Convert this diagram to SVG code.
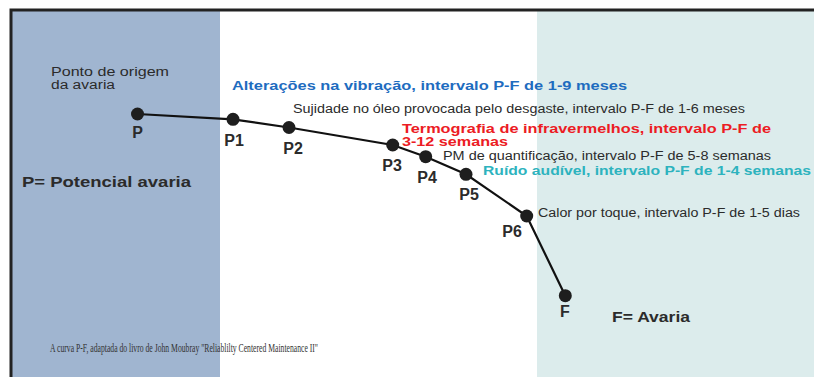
<svg xmlns="http://www.w3.org/2000/svg" width="814" height="377" viewBox="0 0 814 377">
<style>
.t{font-family:"Liberation Sans",Arial,sans-serif;fill:#2b2b2b}
.r{font-size:12px}
.b{font-weight:bold}
.lbl{font-family:"Liberation Sans",Arial,sans-serif;font-weight:bold;font-size:16px;fill:#2b2b2b}
.dot{fill:#1e1e1e}
.edge{stroke:#111;stroke-width:2.2;fill:none}
</style>
<rect x="0" y="0" width="814" height="377" fill="#ffffff"/>
<rect x="12" y="11" width="208" height="366" fill="#a0b5d0"/>
<rect x="537" y="11" width="277" height="366" fill="#dcecec"/>
<path d="M11 377 V10 H814" stroke="#222" stroke-width="3" fill="none"/>
<g id="connectors">
<polyline class="edge" points="137.5,114 233,119.3 289,127.5 392.7,145 425.7,156.7 466,174.3 526.7,216 565.3,295.7"/>
</g>
<g id="P"><circle class="dot" cx="137.5" cy="114" r="6.5"/><text class="lbl" x="137.5" y="138" text-anchor="middle">P</text></g>
<g id="P1"><circle class="dot" cx="233" cy="119.3" r="6.5"/><text class="lbl" x="234" y="146" text-anchor="middle">P1</text></g>
<g id="P2"><circle class="dot" cx="289" cy="127.5" r="6.5"/><text class="lbl" x="293" y="154" text-anchor="middle">P2</text></g>
<g id="P3"><circle class="dot" cx="392.7" cy="145" r="6.5"/><text class="lbl" x="392" y="171" text-anchor="middle">P3</text></g>
<g id="P4"><circle class="dot" cx="425.7" cy="156.7" r="6.5"/><text class="lbl" x="427" y="183" text-anchor="middle">P4</text></g>
<g id="P5"><circle class="dot" cx="466" cy="174.3" r="6.5"/><text class="lbl" x="469" y="200" text-anchor="middle">P5</text></g>
<g id="P6"><circle class="dot" cx="526.7" cy="216" r="6.5"/><text class="lbl" x="512" y="237" text-anchor="middle">P6</text></g>
<g id="F"><circle class="dot" cx="565.3" cy="295.7" r="6.5"/><text class="lbl" x="565" y="317" text-anchor="middle">F</text></g>
<g id="labels">
<text class="t" font-size="12.5" x="51" y="76" textLength="118" lengthAdjust="spacingAndGlyphs">Ponto de origem</text>
<text class="t" font-size="12.5" x="51" y="89" textLength="64" lengthAdjust="spacingAndGlyphs">da avaria</text>
<text class="t b" font-size="13" x="232" y="90" style="fill:#1e6cbf" textLength="395" lengthAdjust="spacingAndGlyphs">Alterações na vibração, intervalo P-F de 1-9 meses</text>
<text class="t r" x="293" y="113" textLength="452" lengthAdjust="spacingAndGlyphs">Sujidade no óleo provocada pelo desgaste, intervalo P-F de 1-6 meses</text>
<text class="t b" font-size="12.5" x="402" y="133" style="fill:#ec1c24" textLength="369" lengthAdjust="spacingAndGlyphs">Termografia de infravermelhos, intervalo P-F de</text>
<text class="t b" font-size="12.5" x="402" y="146" style="fill:#ec1c24" textLength="106" lengthAdjust="spacingAndGlyphs">3-12 semanas</text>
<text class="t r" x="443" y="160" textLength="328" lengthAdjust="spacingAndGlyphs">PM de quantificação, intervalo P-F de 5-8 semanas</text>
<text class="t b" font-size="13" x="483" y="175" style="fill:#2db3be" textLength="328" lengthAdjust="spacingAndGlyphs">Ruído audível, intervalo P-F de 1-4 semanas</text>
<text class="t r" x="538" y="217" textLength="262" lengthAdjust="spacingAndGlyphs">Calor por toque, intervalo P-F de 1-5 dias</text>
<text class="t b" font-size="15" x="22" y="187" textLength="169" lengthAdjust="spacingAndGlyphs">P= Potencial avaria</text>
<text class="t b" font-size="14" x="612" y="322" textLength="78" lengthAdjust="spacingAndGlyphs">F= Avaria</text>
<text x="50" y="352" font-family="'Liberation Serif','Times New Roman',serif" font-size="13" fill="#333" textLength="268" lengthAdjust="spacingAndGlyphs">A curva P-F, adaptada do livro de John Moubray "Reliablilty Centered Maintenance II"</text>
</g>
</svg>
